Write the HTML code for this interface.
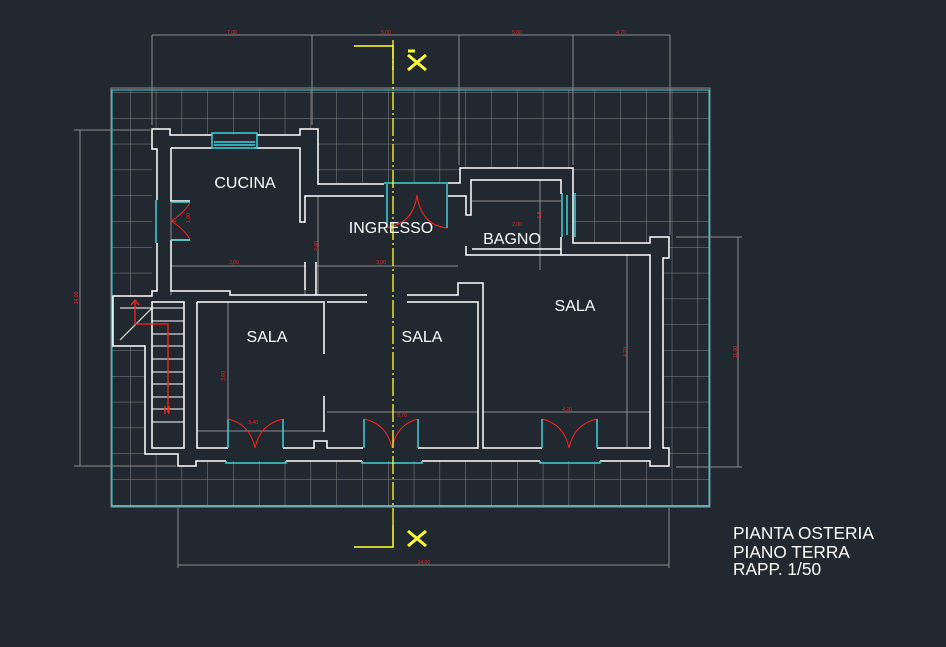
<!DOCTYPE html>
<html><head><meta charset="utf-8"><style>
html,body{margin:0;padding:0;background:#212830;}
svg{display:block}
text{font-family:"Liberation Sans",sans-serif}
</style></head><body>
<svg width="946" height="647" viewBox="0 0 946 647" xmlns="http://www.w3.org/2000/svg">
<defs>
<pattern id="g" x="130" y="118" width="25.8" height="25.8" patternUnits="userSpaceOnUse">
<path d="M0 0V25.8M0 0H25.8" stroke="#868686" stroke-width="1" fill="none"/>
</pattern>
</defs>
<rect width="946" height="647" fill="#212830"/>
<rect x="112" y="90" width="597" height="416" fill="url(#g)"/>
<rect x="112" y="90" width="597" height="416" fill="none" stroke="#3fd0d8" stroke-width="1"/>
<rect x="111" y="88" width="599" height="419" fill="none" stroke="#8c8c8c" stroke-width="1"/>
<path d="M152 129H170V135H300V129H318V183H460V168H573V243H650V237H669V258H663V448H669V466H650V461H196V466H178V454H145V346H113V296H152Z" fill="#212830"/>
<g stroke="#8c8c8c" stroke-width="1" fill="none">
<path d="M152 35H670M152 35V125M312 35V125M459 35V165M573 35V165M670 35V235"/>
<path d="M80 130V466M74 130H150M74 466H176"/>
<path d="M738 237V467M676 237H742M676 467H742"/>
<path d="M178 565H669M178 508V568M669 508V568"/>
<path d="M171 266H305M316 266H458M318 196V295M228 302V448M197 431H324M327 412H478M483 412H650M627 255V448M171 148V295M305 262V295"/>
<path d="M472 201H561M540 180V270"/>
</g>
<g fill="#ff2020" font-size="5" text-anchor="middle">
<text x="232" y="34">7,00</text><text x="386" y="34">5,00</text><text x="517" y="34">5,00</text><text x="621" y="34">4,70</text>
<text x="424" y="564">24,00</text>
<text x="234" y="264">3,00</text><text x="381" y="264">3,00</text>
<text x="253" y="424">3,40</text><text x="402" y="417">3,70</text><text x="567" y="411">4,20</text><text x="517" y="226">2,00</text>
</g>
<g fill="#ff2020" font-size="5" text-anchor="middle">
<text transform="translate(78,298) rotate(-90)">14,00</text>
<text transform="translate(737,352) rotate(-90)">11,00</text>
<text transform="translate(225,376) rotate(-90)">3,60</text>
<text transform="translate(627,352) rotate(-90)">4,70</text>
<text transform="translate(318,246) rotate(-90)">2,40</text>
<text transform="translate(190,218) rotate(-90)">1,00</text>
<text transform="translate(541,215) rotate(-90)">1,5</text>
</g>
<g stroke="#ffffff" stroke-width="1.5" fill="none">
<path d="M212 135H170V129H152V149H157V200"/>
<path d="M257 135H300V129H318V184H384"/>
<path d="M171 148H212M255 148H300V222H305V196H384"/>
<path d="M171 148V201H190M171 240H190M171 240V291H230V295H367"/>
<path d="M157 243V291H152V296H113V346H145V454H178V466H196V461H226"/>
<path d="M152 302H184V448H152Z"/>
<path d="M197 302V448H228M283 448H314V441H327V448H363M197 302H324V354M324 396V432"/>
<path d="M327 302H367M407 295H458V283H483V448H542M407 302H478V448H418"/>
<path d="M286 461H362M422 461H540M600 461H650V466H669V448H663V258H669V237H650V243H573V168H460V183H448"/>
<path d="M448 196H466V215H471V180H561V194M561 237V255M466 246V255H650V448H597M472 249H561"/>
<path d="M305 262V290M316 262V295"/>
</g>
<g stroke="#ffffff" stroke-width="1">
<path d="M152 308H184M152 321H184M152 334H184M152 346H184M152 359H184M152 372H184M152 384H184M152 397H184M152 409H184M152 422H184M120 340L152 308"/>
<path d="M120 308H152"/>
</g>
<path d="M135 301V324H168V413M131 305L135 300L139 305M165 406V414M169 406V414" stroke="#ff2020" stroke-width="1.3" fill="none"/>
<g stroke="#3fd0d8" stroke-width="1.5" fill="none">
<path d="M212 133H257V148H212ZM214 142H255M214 145H255"/>
<path d="M156 200V243M171 202H190M171 240H190"/>
<path d="M384 183H448M387 184V228M447 184V228"/>
<path d="M562 193V237M575 193V237M567 195V235"/>
<path d="M226 461V463H286V461M228 419V448M283 419V448"/>
<path d="M362 461V463H422V461M364 419V448M418 419V448"/>
<path d="M540 461V463H600V461M542 419V448M597 419V448"/>
</g>
<g stroke="#ff2020" stroke-width="1" fill="none">
<path d="M171 221Q183 214 190 203M171 221Q183 228 190 239M171 221H176"/>
<path d="M417 195Q413 225 384 228M417 195Q421 225 447 228"/>
<path d="M255 448Q250 424 228 419M255 448Q260 424 283 419"/>
<path d="M392 448Q387 424 364 419M392 448Q397 424 418 419"/>
<path d="M569 448Q564 424 542 419M569 448Q574 424 597 419"/>
</g>
<path d="M393 40V525" stroke="#ffff33" stroke-width="1.3" stroke-dasharray="18 3 2 3" fill="none"/>
<g stroke="#ffff33" stroke-width="1.5" fill="none">
<path d="M354 46H393V70"/><path d="M354 547H393V525"/>
</g>
<g stroke="#ffff33" stroke-width="3" fill="none">
<path d="M408 55L426 70M426 55L408 70M408 51H415"/>
<path d="M408 531L426 546M426 531L408 546"/>
</g>
<g fill="#ffffff" font-size="16" text-anchor="middle">
<text x="245" y="188">CUCINA</text>
<text x="391" y="233">INGRESSO</text>
<text x="512" y="244">BAGNO</text>
<text x="267" y="342">SALA</text>
<text x="422" y="342">SALA</text>
<text x="575" y="311">SALA</text>
</g>
<g fill="#ffffff" font-size="17.3">
<text x="733" y="539">PIANTA OSTERIA</text>
<text x="733" y="558">PIANO TERRA</text>
<text x="733" y="575">RAPP. 1/50</text>
</g>
</svg>
</body></html>
